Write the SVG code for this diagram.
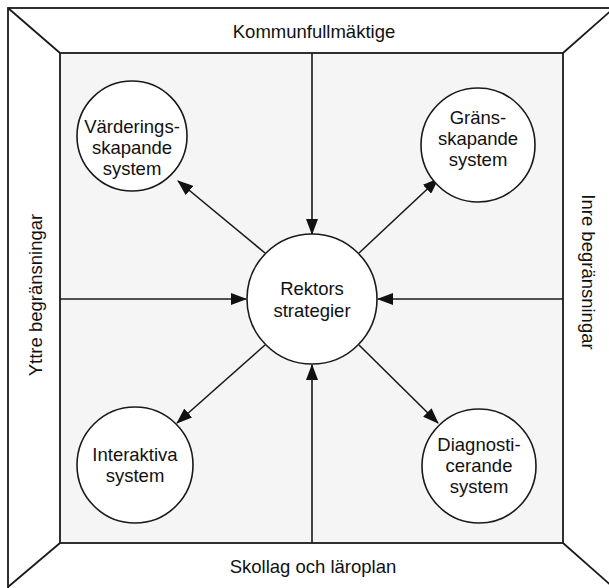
<svg xmlns="http://www.w3.org/2000/svg" width="609" height="588" viewBox="0 0 609 588">
<style>
.frame{fill:none;stroke:#1a1a1a;stroke-width:1.8}
.inner{fill:#f5f5f5;stroke:#1a1a1a;stroke-width:1.8}
.node{fill:#ffffff;stroke:#1a1a1a;stroke-width:1.6}
.edge{fill:none;stroke:#1a1a1a;stroke-width:1.6}
text{font-family:"Liberation Sans",Arial,sans-serif;font-size:18.5px;fill:#111;text-anchor:middle}
</style>
<defs>
<marker id="arr" viewBox="0 0 16 12" refX="15" refY="6" markerWidth="16" markerHeight="12" markerUnits="userSpaceOnUse" orient="auto">
<path d="M0,0 L16,6 L0,12 Z" fill="#111"/>
</marker>
</defs>
<rect width="609" height="588" fill="#ffffff"/>
<g id="frame">
<rect class="frame" x="8" y="8" width="606" height="584"/>
<rect class="inner" x="60" y="53" width="503" height="490"/>
<line class="frame" x1="8" y1="8" x2="60" y2="53"/>
<line class="frame" x1="614" y1="8" x2="563" y2="53"/>
<line class="frame" x1="8" y1="587" x2="60" y2="543"/>
<line class="frame" x1="614" y1="588" x2="563" y2="543"/>
<text x="314" y="38">Kommunfullmäktige</text>
<text x="313" y="573">Skollag och läroplan</text>
<text transform="translate(42,295) rotate(-90)">Yttre begränsningar</text>
<text transform="translate(582,272) rotate(90)">Inre begränsningar</text>
</g>
<g id="connectors">
<line class="edge" x1="312" y1="53" x2="312" y2="234" marker-end="url(#arr)"/>
<line class="edge" x1="60" y1="299" x2="246" y2="299" marker-end="url(#arr)"/>
<line class="edge" x1="563" y1="299" x2="378" y2="299" marker-end="url(#arr)"/>
<line class="edge" x1="312" y1="543" x2="312" y2="365" marker-end="url(#arr)"/>
<line class="edge" x1="265" y1="253" x2="178" y2="181" marker-end="url(#arr)"/>
<line class="edge" x1="359" y1="253" x2="438" y2="179" marker-end="url(#arr)"/>
<line class="edge" x1="265" y1="345" x2="177" y2="423" marker-end="url(#arr)"/>
<line class="edge" x1="359" y1="345" x2="438" y2="423" marker-end="url(#arr)"/>
</g>
<g id="center">
<circle class="node" cx="312" cy="299" r="65"/>
<text x="312" y="295">Rektors</text>
<text x="312" y="317">strategier</text>
</g>
<g id="vardering">
<circle class="node" cx="132" cy="136" r="55"/>
<text x="132" y="133">Värderings-</text>
<text x="132" y="154">skapande</text>
<text x="132" y="175">system</text>
</g>
<g id="grans">
<circle class="node" cx="478" cy="145" r="57"/>
<text x="478" y="124">Gräns-</text>
<text x="478" y="145">skapande</text>
<text x="478" y="166">system</text>
</g>
<g id="interaktiva">
<circle class="node" cx="135" cy="465" r="58"/>
<text x="135" y="461">Interaktiva</text>
<text x="135" y="482">system</text>
</g>
<g id="diagnos">
<circle class="node" cx="479" cy="466" r="57"/>
<text x="479" y="451">Diagnosti-</text>
<text x="479" y="472">cerande</text>
<text x="479" y="493">system</text>
</g>
</svg>
